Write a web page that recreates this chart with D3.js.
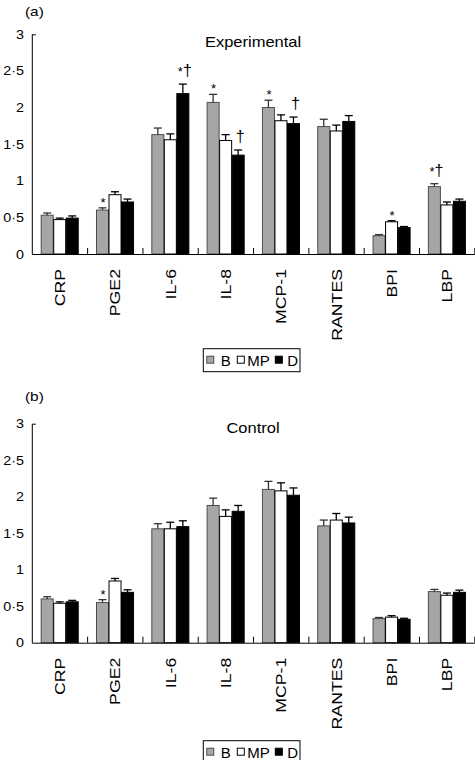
<!DOCTYPE html>
<html><head><meta charset="utf-8">
<script src="https://cdn.jsdelivr.net/npm/d3@7"></script>
<style>
html,body{margin:0;padding:0;background:#fff;}
svg{display:block;font-family:"Liberation Sans",Arial,sans-serif;}
</style></head>
<body>
<svg id="chart" width="475" height="760"></svg>
<script>
// ---------------- data ----------------
const categories = ["CRP","PGE2","IL-6","IL-8","MCP-1","RANTES","BPI","LBP"];
const series = ["B","MP","D"];
const tickValues = [0, 0.5, 1, 1.5, 2, 2.5, 3];
const tickLabels = ["0","0·5","1","1·5","2","2·5","3"];

// (a) Experimental
const expB   = [0.53, 0.60, 1.63, 2.07, 2.00, 1.74, 0.25, 0.92];
const expMP  = [0.47, 0.81, 1.56, 1.55, 1.82, 1.68, 0.44, 0.67];
const expD   = [0.49, 0.71, 2.19, 1.35, 1.78, 1.81, 0.36, 0.72];
const expBErr  = [0.03, 0.03, 0.09, 0.11, 0.10, 0.10, 0.015, 0.04];
const expMPErr = [0.02, 0.04, 0.08, 0.08, 0.08, 0.08, 0.015, 0.04];
const expDErr  = [0.03, 0.04, 0.13, 0.07, 0.09, 0.08, 0.015, 0.03];
const expBMarks  = ["", "*", "", "*", "*", "", "", "*†"];
const expMPMarks = ["", "", "", "", "", "", "*", ""];
const expDMarks  = ["", "", "*†", "†", "†", "", "", ""];

// (b) Control
const ctlB   = [0.60, 0.55, 1.56, 1.88, 2.10, 1.60, 0.33, 0.70];
const ctlMP  = [0.54, 0.845, 1.56, 1.73, 2.08, 1.68, 0.35, 0.65];
const ctlD   = [0.56, 0.69, 1.59, 1.80, 2.02, 1.64, 0.32, 0.69];
const ctlBErr  = [0.03, 0.04, 0.07, 0.10, 0.11, 0.08, 0.015, 0.03];
const ctlMPErr = [0.02, 0.035, 0.09, 0.09, 0.11, 0.09, 0.02, 0.03];
const ctlDErr  = [0.02, 0.035, 0.08, 0.08, 0.10, 0.08, 0.015, 0.03];
const ctlBMarks  = ["", "*", "", "", "", "", "", ""];
const ctlMPMarks = ["", "", "", "", "", "", "", ""];
const ctlDMarks  = ["", "", "", "", "", "", "", ""];

// ---------------- styles ----------------
const fills   = {B: "#a6a6a6", MP: "#ffffff", D: "#000000"};
const strokes = {B: "#4d4d4d", MP: "#000000", D: "#000000"};
const errCol  = {B: "#333333", MP: "#000000", D: "#000000"};
const SX = 1.18;   // horizontal stretch of the lettering in the source figure

const panels = [
  {label: "(a)", title: "Experimental", top: 34.3, bottom: 254, labelY: 16, titleY: 46.5, legendY: 348.7,
   vals: [expB, expMP, expD], errs: [expBErr, expMPErr, expDErr], marks: [expBMarks, expMPMarks, expDMarks]},
  {label: "(b)", title: "Control", top: 423.7, bottom: 642.7, labelY: 401, titleY: 433, legendY: 740.7,
   vals: [ctlB, ctlMP, ctlD], errs: [ctlBErr, ctlMPErr, ctlDErr], marks: [ctlBMarks, ctlMPMarks, ctlDMarks]}
];

const svg = d3.select("#chart");
const left = 31.8, right = 474.3;

const x = d3.scaleBand().domain(categories).range([left, right]).paddingInner(0).paddingOuter(0);
const xs = d3.scaleBand().domain(series).range([0, x.bandwidth()]).paddingOuter(0.71).paddingInner(0);
const xb = d3.scaleLinear().domain([0, categories.length]).range([left, right]);

function label(g, tx, ty, txt, size, anchor, rot, sx) {
  return g.append("text")
    .attr("transform", `translate(${tx},${ty})${rot ? " rotate(" + rot + ")" : ""} scale(${sx || SX},1)`)
    .attr("font-size", size).attr("text-anchor", anchor || "start").attr("fill", "#000").text(txt);
}

panels.forEach(p => {
  const g = svg.append("g");
  const y = d3.scaleLinear().domain([0, 3]).range([p.bottom, p.top]);

  label(g, 25, p.labelY, p.label, 13);
  label(g, (left + right) / 2, p.titleY, p.title, 14, "middle");

  // bars
  series.forEach((s, si) => {
    const vals = p.vals[si], errs = p.errs[si], marks = p.marks[si];
    g.append("g").selectAll("rect").data(categories).join("rect")
      .attr("x", c => x(c) + xs(s) + 0.5)
      .attr("y", (c, i) => y(vals[i]))
      .attr("width", xs.bandwidth() - 0.5)
      .attr("height", (c, i) => y(0) - y(vals[i]))
      .attr("fill", fills[s]).attr("stroke", strokes[s]).attr("stroke-width", 1);
    const eg = g.append("g").attr("stroke", errCol[s]).attr("stroke-width", 1.3);
    categories.forEach((c, i) => {
      const cx = x(c) + xs(s) + xs.bandwidth() / 2 + 0.25;
      const y1 = y(vals[i]), y2 = y(vals[i] + errs[i]);
      eg.append("line").attr("x1", cx).attr("x2", cx).attr("y1", y1).attr("y2", y2);
      eg.append("line").attr("x1", cx - 4).attr("x2", cx + 4).attr("y1", y2).attr("y2", y2);
      const m = marks[i];
      if (m) {
        const hasDagger = m.indexOf("†") >= 0;
        const t = g.append("text").attr("x", cx + (hasDagger ? 2 : 0.5))
          .attr("y", y2 - (hasDagger ? 8 : 1)).attr("text-anchor", "middle");
        Array.from(m).forEach(ch => {
          t.append("tspan").attr("font-size", ch === "*" ? 13 : 16).text(ch);
        });
      }
    });
  });

  // y axis: line with a single inner tick at the top value
  const yAxis = d3.axisLeft(y).tickValues([tickValues[tickValues.length - 1]]).tickSize(-4)
    .tickSizeOuter(0).tickFormat("");
  const ya = g.append("g").attr("transform", `translate(${left},0)`).call(yAxis);
  ya.select(".domain").attr("stroke", "#000");
  tickValues.forEach((v, i) => label(g, left - 7.8, y(v) + 4.5, tickLabels[i], 12.8, "end", null, 1.12));

  // x axis with boundary ticks
  const xAxis = d3.axisBottom(xb).tickValues(d3.range(1, categories.length + 1)).tickSize(-6)
    .tickSizeOuter(0).tickFormat("");
  const xa = g.append("g").attr("transform", `translate(0,${p.bottom})`).call(xAxis);
  xa.select(".domain").attr("stroke", "#000");

  // category labels
  categories.forEach(c => label(g, x(c) + x.bandwidth() / 2 + 5.5, p.bottom + 15, c, 15, "end", -90));

  // legend
  const lg = g.append("g").attr("transform", `translate(203.3,${p.legendY})`);
  lg.append("rect").attr("x", 0).attr("y", 0).attr("width", 96.7).attr("height", 23)
    .attr("fill", "#fff").attr("stroke", "#000").attr("stroke-width", 1);
  const legX = {B: [3.5, 17.5], MP: [34, 44], D: [72, 84]};
  series.forEach(s => {
    lg.append("rect").attr("x", legX[s][0]).attr("y", 7.5).attr("width", 7).attr("height", 7)
      .attr("fill", fills[s]).attr("stroke", strokes[s]).attr("stroke-width", 1);
    lg.append("text").attr("x", legX[s][1]).attr("y", 17.3).attr("font-size", 15).text(s);
  });
});
</script>
</body></html>
